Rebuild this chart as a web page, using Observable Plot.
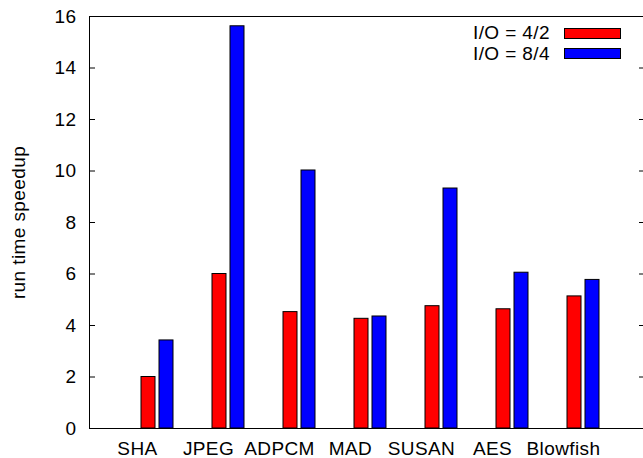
<!DOCTYPE html>
<html><head><meta charset="utf-8">
<script src="https://cdn.jsdelivr.net/npm/d3@7"></script>
<script src="https://cdn.jsdelivr.net/npm/@observablehq/plot@0.6"></script>
<style>
body{margin:0;background:#fff;}
#chart{position:relative;width:643px;height:458px;font-family:"Liberation Sans",Arial,sans-serif;}
#legend{position:absolute;top:23px;right:22px;font-size:19px;letter-spacing:0.4px;color:#000;}
.row{display:flex;align-items:center;justify-content:flex-end;height:20.5px;}
.sw{width:55px;height:9px;border:1px solid #000;margin-left:14px;}
</style></head><body><div id="chart"></div>
<script>
const benchmarks = ["SHA","JPEG","ADPCM","MAD","SUSAN","AES","Blowfish"];
const seriesNames = ["I/O = 4/2","I/O = 8/4"];
const speedup42 = [2.0, 6.0, 4.52, 4.26, 4.75, 4.63, 5.13];
const speedup84 = [3.42, 15.62, 10.02, 4.35, 9.32, 6.05, 5.77];
const seriesColors = ["#ff0000","#0000ff"];
const yTicks = [0,2,4,6,8,10,12,14,16];
const yLabel = "run time speedup";

const d42 = benchmarks.map((b,i)=>({bench:b, v:speedup42[i]}));
const d84 = benchmarks.map((b,i)=>({bench:b, v:speedup84[i]}));

const chart = Plot.plot({
  width: 643, height: 458,
  marginLeft: 89, marginRight: 0, marginTop: 16, marginBottom: 30,
  style: {fontFamily: '"Liberation Sans", Arial, sans-serif', fontSize: "19px", letterSpacing: "0.4px", background: "#fff", color: "#000", overflow: "visible"},
  x: {type: "band", domain: benchmarks, paddingInner: 0.8036, paddingOuter: 0.787, align: 0.532},
  y: {domain: [0,16]},
  marks: [
    Plot.barY(d42, {x:"bench", y:"v", fill: seriesColors[0], stroke:"#000", strokeWidth:1, dx:-9}),
    Plot.barY(d84, {x:"bench", y:"v", fill: seriesColors[1], stroke:"#000", strokeWidth:1, dx:9}),
    Plot.frame({stroke:"#000"}),
    Plot.axisY(yTicks, {anchor:"left", tickSize:-6, fill:"none", label:null}),
    Plot.axisY(yTicks, {anchor:"right", tickSize:-5, fill:"none", label:null}),
    Plot.axisY(yTicks, {anchor:"left", tickSize:0, tickPadding:13, label:yLabel, labelAnchor:"center", labelArrow:"none", labelOffset:78}),
    Plot.axisX({tickSize:0, tickPadding:13, dx:-20, label:null})
  ]
});
const root = document.getElementById("chart");
root.appendChild(chart);
const legend = document.createElement("div");
legend.id = "legend";
seriesNames.forEach((n,i)=>{
  const row = document.createElement("div"); row.className="row";
  const t = document.createElement("span"); t.textContent = n;
  const s = document.createElement("span"); s.className="sw"; s.style.background = seriesColors[i];
  row.appendChild(t); row.appendChild(s); legend.appendChild(row);
});
root.appendChild(legend);
</script></body></html>
